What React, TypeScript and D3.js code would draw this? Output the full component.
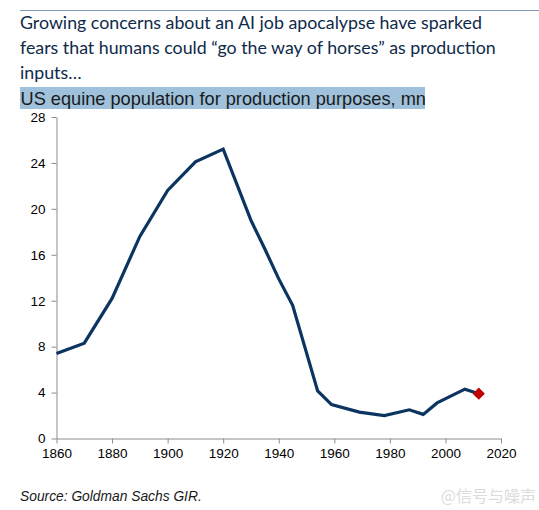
import * as d3 from "d3";
import React, { useEffect, useRef } from "react";

// 1860–2012, millions of horses/mules used for production
const years = [1860, 1870, 1880, 1890, 1900, 1910, 1920, 1930, 1935, 1940, 1945, 1954, 1959, 1969, 1978, 1987, 1992, 1997, 2007, 2012];
const horses = [7.4, 8.3, 12.2, 17.6, 21.6, 24.1, 25.2, 19.0, 16.5, 13.9, 11.6, 4.15, 2.95, 2.3, 2.0, 2.5, 2.1, 3.1, 4.3, 3.9];
const yTicks = [0, 4, 8, 12, 16, 20, 24, 28];
const xTicks = [1860, 1880, 1900, 1920, 1940, 1960, 1980, 2000, 2020];

const titleLines = [
  "Growing concerns about an AI job apocalypse have sparked",
  "fears that humans could \u201cgo the way of horses\u201d as production",
  "inputs\u2026",
];
const subtitle = "US equine population for production purposes, mn";
const source = "Source: Goldman Sachs GIR.";

const W = 539;
const H = 510;

const App = () => {
  const ref = useRef(null);

  useEffect(() => {
    const svg = d3.select(ref.current);
    svg.selectAll("*").remove();

    const margin = { left: 56.5, right: 38, top: 117, bottom: 71.5 };
    const x = d3.scaleLinear().domain([1860, 2020]).range([margin.left, W - margin.right]);
    const y = d3.scaleLinear().domain([0, 28]).range([H - margin.bottom, margin.top]);

    const axisColor = "#8c8c8c";
    const lineColor = "#0b3560";
    const arial = "Liberation Sans, Arial, sans-serif";

    // 위쪽 구분선
    svg.append("line")
      .attr("x1", 20).attr("x2", W).attr("y1", 10.5).attr("y2", 10.5)
      .attr("stroke", "#7f98b5").attr("stroke-width", 1);

    // 제목
    svg.append("g")
      .selectAll("text")
      .data(titleLines)
      .enter()
      .append("text")
      .attr("x", 20)
      .attr("y", (d, i) => 29 + i * 25)
      .attr("font-family", "Lato, 'Open Sans', sans-serif")
      .attr("font-size", 17.8)
      .attr("fill", "#0e2a4a")
      .text((d) => d);

    // 부제 배경 + 텍스트
    svg.append("rect")
      .attr("x", 20).attr("y", 87).attr("width", 405).attr("height", 22)
      .attr("fill", "#9fc1db");
    svg.append("text")
      .attr("x", 20.5).attr("y", 104.5)
      .attr("font-family", arial)
      .attr("font-size", 18.2)
      .attr("fill", "#1a1a1a")
      .text(subtitle);

    // y축
    const yAxis = svg.append("g")
      .attr("transform", `translate(${margin.left},0)`)
      .call(d3.axisLeft(y).tickValues(yTicks).tickSize(5).tickSizeOuter(0).tickPadding(6));
    yAxis.select(".domain").attr("stroke", axisColor);
    yAxis.selectAll(".tick line").attr("stroke", axisColor);
    yAxis.selectAll(".tick text")
      .attr("fill", "#000")
      .attr("font-family", arial)
      .attr("font-size", 13.5);

    // x축
    const xAxis = svg.append("g")
      .attr("transform", `translate(0,${y(0)})`)
      .call(d3.axisBottom(x).tickValues(xTicks).tickFormat(d3.format("d")).tickSize(5).tickSizeOuter(0).tickPadding(5));
    xAxis.select(".domain").attr("stroke", axisColor);
    xAxis.selectAll(".tick line").attr("stroke", axisColor);
    xAxis.selectAll(".tick text")
      .attr("fill", "#000")
      .attr("font-family", arial)
      .attr("font-size", 13.5);

    // 라인
    const data = years.map((yr, i) => ({ yr, v: horses[i] }));
    const line = d3.line()
      .x((d) => x(d.yr))
      .y((d) => y(d.v));
    svg.append("path")
      .datum(data)
      .attr("fill", "none")
      .attr("stroke", lineColor)
      .attr("stroke-width", 3.2)
      .attr("stroke-linejoin", "miter")
      .attr("d", line);

    // 마지막 점 (빨간 다이아몬드)
    const last = data[data.length - 1];
    svg.append("path")
      .attr("d", d3.symbol().type(d3.symbolDiamond2).size(95)())
      .attr("transform", `translate(${x(last.yr)},${y(last.v)})`)
      .attr("fill", "#c00000");

    // 출처
    svg.append("text")
      .attr("x", 20).attr("y", 501)
      .attr("font-family", arial)
      .attr("font-size", 13.8)
      .attr("font-style", "italic")
      .attr("fill", "#1a1a1a")
      .text(source);

    // 워터마크
    svg.append("text")
      .attr("x", 536).attr("y", 502)
      .attr("text-anchor", "end")
      .attr("font-family", "'Noto Sans CJK SC', sans-serif")
      .attr("font-size", 16)
      .attr("fill", "#dcdcdc")
      .text("@信号与噪声");
  }, []);

  return (
    <svg
      ref={ref}
      width={W}
      height={H}
      style={{ position: "absolute", left: 0, top: 0, background: "#fff" }}
    />
  );
};

export default App;
